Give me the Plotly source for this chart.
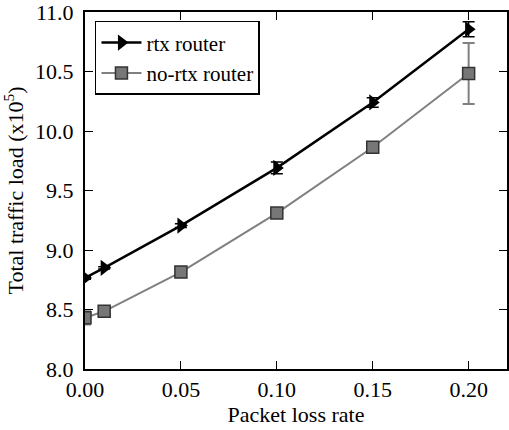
import plotly.graph_objects as go

loss_rate = [0.0, 0.01, 0.05, 0.10, 0.15, 0.20]
rtx_load = [8.765, 8.85, 9.205, 9.69, 10.24, 10.855]
rtx_err = [0.01, 0.01, 0.015, 0.05, 0.04, 0.064]
nortx_load = [8.43, 8.485, 8.815, 9.31, 9.863, 10.483]
nortx_err = [0.055, 0.01, 0.01, 0.01, 0.01, 0.257]

x_ticks = [0.0, 0.05, 0.10, 0.15, 0.20]
x_ticklabels = ["0.00", "0.05", "0.10", "0.15", "0.20"]
y_ticks = [8.0, 8.5, 9.0, 9.5, 10.0, 10.5, 11.0]
y_ticklabels = ["8.0", "8.5", "9.0", "9.5", "10.0", "10.5", "11.0"]

FONT = "Liberation Serif"
FS = 22

fig = go.Figure()
fig.add_trace(go.Scatter(
    x=loss_rate, y=nortx_load, name="no-rtx router", mode="lines+markers",
    line=dict(color="#808080", width=2),
    marker=dict(symbol="square", size=12, color="#777777", line=dict(color="#333333", width=1.5)),
    error_y=dict(type="data", array=nortx_err, visible=True, color="#808080", thickness=2, width=6),
))
fig.add_trace(go.Scatter(
    x=loss_rate, y=rtx_load, name="rtx router", mode="lines+markers",
    line=dict(color="black", width=2.5),
    marker=dict(symbol="triangle-right", size=14, color="black"),
    error_y=dict(type="data", array=rtx_err, visible=True, color="black", thickness=1.5, width=6),
))

fig.update_layout(
    width=509, height=430,
    margin=dict(l=85, r=0, t=11, b=61),
    paper_bgcolor="white", plot_bgcolor="white",
    font=dict(family=FONT, size=FS, color="black"),
    showlegend=True,
    legend=dict(x=0.0236, y=0.975, xanchor="left", yanchor="top",
                bgcolor="white", bordercolor="black", borderwidth=1.5,
                traceorder="reversed", font=dict(size=21, color="black"),
                itemwidth=40, tracegroupgap=0),
)
fig.update_xaxes(
    range=[0, 0.22], tickvals=x_ticks, ticktext=x_ticklabels,
    showgrid=False, zeroline=False, showline=True, linecolor="black", linewidth=2,
    mirror="ticks", ticks="inside", ticklen=8, tickwidth=1, tickcolor="black",
    ticklabelstandoff=0, ticklabeloverflow="allow", tickfont=dict(size=FS, color="black"),
    title=dict(text="Packet loss rate", font=dict(size=FS, color="black"), standoff=0),
)
fig.update_yaxes(
    range=[8.0, 11.0], tickvals=y_ticks, ticktext=y_ticklabels,
    showgrid=False, zeroline=False, showline=True, linecolor="black", linewidth=2,
    mirror="ticks", ticks="inside", ticklen=8, tickwidth=1, tickcolor="black",
    ticklabelstandoff=5, ticklabeloverflow="allow", tickfont=dict(size=FS, color="black"),
    title=dict(text="Total traffic load (x10<sup>5</sup>)", font=dict(size=FS, color="black"), standoff=8),
)

fig.write_html("out.html")
